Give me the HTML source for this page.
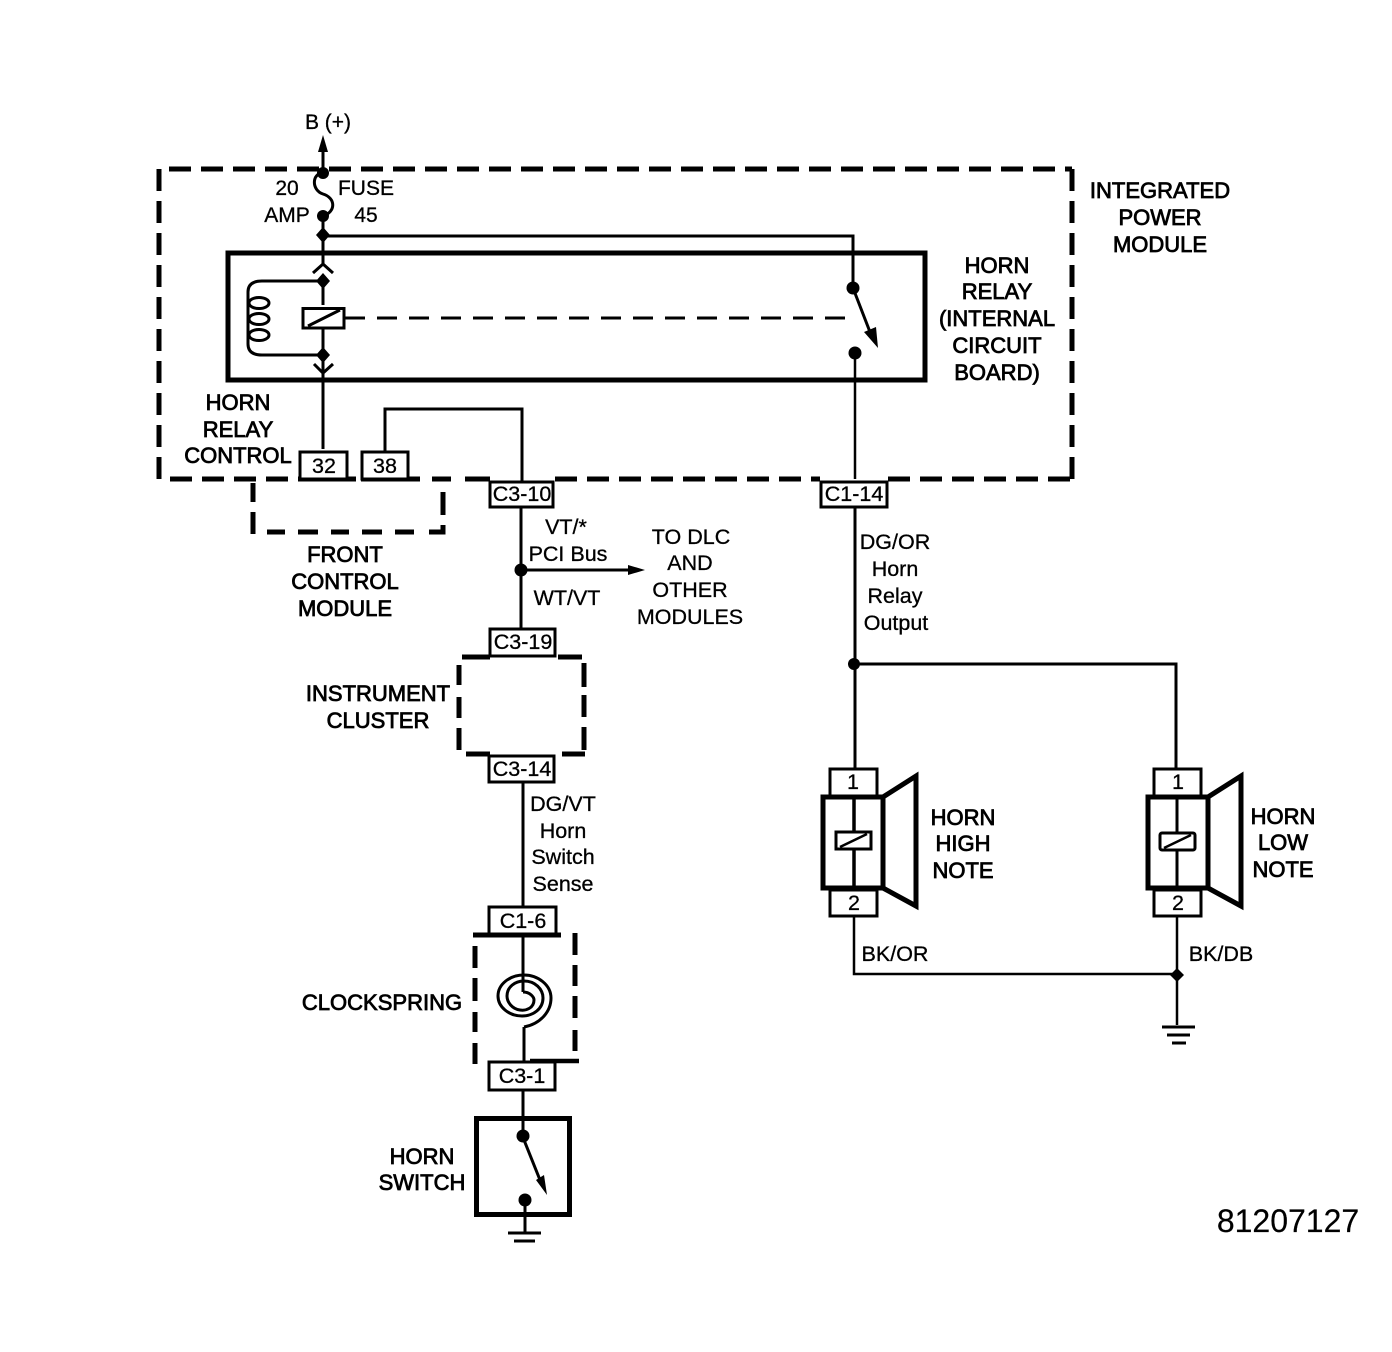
<!DOCTYPE html>
<html><head><meta charset="utf-8"><style>
html,body{margin:0;padding:0;background:#fff}
svg{display:block}
text{font-family:"Liberation Sans",sans-serif;font-size:21.5px;fill:#000;text-anchor:middle;stroke:#000;stroke-width:.3px}
.b text{font-size:22px;stroke-width:.8px}
.small text{font-size:21px}
</style></head><body>
<svg width="1392" height="1352" viewBox="0 0 1392 1352" xmlns="http://www.w3.org/2000/svg">
<g fill="none" stroke="#000" stroke-linecap="butt">
<!-- outer IPM -->
<path d="M169 169H1072" stroke-width="5" stroke-dasharray="22 10"/>
<path d="M1072 169V479" stroke-width="5" stroke-dasharray="22 10"/>
<path d="M159 169V479" stroke-width="5" stroke-dasharray="22 10"/>
<path d="M170 479H290" stroke-width="5" stroke-dasharray="22 10"/>
<path d="M298 479H356M361 479H420M432 479H451M465 479H490" stroke-width="5"/>
<path d="M555 479H820M888 479H1072" stroke-width="5" stroke-dasharray="22 10"/>
<!-- FCM -->
<path d="M253 483V502M253 512V534M267 532H285M298 532H318M331 532H349M362 532H382M395 532H414M443 492V515M443 525V532H429" stroke-width="5"/>
<!-- relay box -->
<rect x="228" y="253" width="697" height="127" stroke-width="5"/>
<!-- B+ feed -->
<path d="M323 150V172" stroke-width="3"/>
<path d="M323 173C312 173 311 190 323 194C336 198 336 212 323 216" stroke-width="3"/>
<path d="M323 216V266M323 281V305M323 328V372M323 372V449" stroke-width="3"/>
<path d="M323 236H853V287" stroke-width="3"/>
<path d="M853 288L870 332" stroke-width="3"/>
<path d="M855 353V479" stroke-width="2.500"/>
<path d="M313 273L323 264L333 273M314 364L323 373L333 364" stroke-width="3"/>
<!-- coil -->
<path d="M323 281H262Q248 281 248 292V344Q248 355 262 355H323" stroke-width="3"/>
<ellipse cx="259" cy="303" rx="10" ry="5.500" stroke-width="3"/>
<ellipse cx="259" cy="319" rx="10" ry="5.500" stroke-width="3"/>
<ellipse cx="259" cy="335" rx="10" ry="5.500" stroke-width="3"/>
<rect x="303" y="308.500" width="41" height="19.500" stroke-width="3"/>
<path d="M308 326L340 310" stroke-width="3"/>
<path d="M345 318H855" stroke-width="3" stroke-dasharray="20 12"/>
<!-- 38 loop -->
<path d="M385 452V409H522V482" stroke-width="3"/>
<!-- C3-10 down -->
<path d="M521 506V628" stroke-width="3"/>
<path d="M521 570H635" stroke-width="3"/>
<!-- instrument cluster -->
<path d="M462 657H490M558 657H582" stroke-width="5"/>
<path d="M459 665V685M459 697V718M459 728V750" stroke-width="5"/>
<path d="M584 663V687M584 695V717M584 727V750" stroke-width="5"/>
<path d="M466 754H490M562 754H585" stroke-width="5"/>
<!-- sense wire -->
<path d="M523 783V908M523 934V992M524 1027V1062M523 1090V1137" stroke-width="3"/>
<!-- clockspring -->
<path d="M523 992C530 992 534 997 534 1000C534 1008 526 1011 520 1010C512 1009 507 1002 507 996C507 987 515 981 524 981C535 981 543 989 543 998C543 1009 533 1016 522 1016C509 1016 498 1007 498 996C498 984 510 975 524 975C538 975 551 985 551 998C551 1012 540 1024 524 1027" stroke-width="3"/>
<!-- clockspring dashed -->
<path d="M475 946V968M475 978V1001M475 1012V1032M475 1043V1064" stroke-width="5"/>
<path d="M575 933V955M575 965V986M575 996V1018M575 1030V1051" stroke-width="5"/>
<path d="M530 1061H579" stroke-width="4.500"/>
<!-- horn switch -->
<rect x="476.500" y="1118.500" width="93" height="96" stroke-width="5"/>
<path d="M524 1140L540 1180" stroke-width="3"/>
<path d="M525 1200V1232" stroke-width="3"/>
<path d="M508 1233H541M514 1241H535" stroke-width="3"/>
<!-- horn wires -->
<path d="M855 507V770" stroke-width="3"/>
<path d="M854 664H1176V770" stroke-width="3"/>
<path d="M854 917V974H1177M1177 917V1025" stroke-width="2.500"/>
<path d="M1162 1027H1195M1167 1035H1190M1172 1043H1186" stroke-width="3"/>
<!-- horns -->
<rect x="823" y="797" width="60" height="91" stroke-width="5"/>
<path d="M883 797L916 776V906L883 888" stroke-width="5" stroke-linejoin="miter"/>
<rect x="1148" y="797" width="60" height="91" stroke-width="5"/>
<path d="M1208 797L1241 776V906L1208 888" stroke-width="5"/>
</g>
<g fill="#fff" stroke="#000" stroke-width="3">
<rect x="836" y="832" width="35" height="17"/>
<rect x="1160" y="833" width="35" height="17" rx="2"/>
<rect x="830" y="769" width="47" height="27"/>
<rect x="830" y="890" width="47" height="26"/>
<rect x="1154" y="769" width="47" height="27"/>
<rect x="1154" y="890" width="47" height="26"/>
<rect x="300" y="452" width="47" height="27"/>
<rect x="362" y="452" width="46" height="27"/>
<rect x="490" y="482" width="63" height="25"/>
<rect x="821" y="482" width="66" height="25"/>
<rect x="490" y="629" width="65" height="27"/>
<rect x="489" y="756" width="65" height="26"/>
<rect x="489" y="907" width="67" height="27"/>
<rect x="489" y="1062" width="66" height="28"/>
</g>
<g fill="none" stroke="#000" stroke-width="2.500">
<path d="M840 847L867 834M1164 848L1191 835"/>
</g>
<path d="M854 799V832M854 849V886" stroke="#000" stroke-width="3.500"/>
<path d="M1177 799V833M1177 850V886" stroke="#000" stroke-width="3"/>
<path d="M473 935H561" stroke="#000" stroke-width="5"/>
<!-- dots -->
<g fill="#000" stroke="none">
<path d="M323 135L328 152H318Z"/>
<circle cx="323" cy="173" r="6"/><circle cx="323" cy="216" r="6"/>
<path d="M323 227L330 235L323 243L316 235Z"/>
<path d="M323 273L330 281L323 289L316 281Z"/>
<path d="M323 347L330 355L323 363L316 355Z"/>
<circle cx="853" cy="288" r="6.500"/><circle cx="855" cy="353" r="6.500"/>
<path d="M878 348L864 332L876 327Z"/>
<circle cx="521" cy="570" r="6.500"/>
<path d="M645 570L628 565V575Z"/>
<circle cx="523" cy="1136" r="6.500"/><circle cx="525" cy="1200" r="6.500"/>
<path d="M547 1195L536 1180L544 1175Z"/>
<circle cx="854" cy="664" r="6"/>
<path d="M1177 968L1184 975L1177 982L1170 975Z"/>
</g>
<!-- text -->
<g>
<g class="small"><text x="328" y="129">B (+)</text>
<text x="287" y="195">20</text><text x="287" y="222">AMP</text>
<text x="366" y="195">FUSE</text><text x="366" y="222">45</text></g>
<g class="b">
<text x="1160" y="198">INTEGRATED</text><text x="1160" y="225">POWER</text><text x="1160" y="252">MODULE</text>
<text x="997" y="273">HORN</text><text x="997" y="299">RELAY</text><text x="997" y="326">(INTERNAL</text><text x="997" y="353">CIRCUIT</text><text x="997" y="380">BOARD)</text>
<text x="238" y="410">HORN</text><text x="238" y="437">RELAY</text><text x="238" y="463">CONTROL</text>
<text x="345" y="562">FRONT</text><text x="345" y="589">CONTROL</text><text x="345" y="616">MODULE</text>
<text x="378" y="701">INSTRUMENT</text><text x="378" y="728">CLUSTER</text>
<text x="382" y="1010">CLOCKSPRING</text>
<text x="422" y="1164">HORN</text><text x="422" y="1190">SWITCH</text>
<text x="963" y="825">HORN</text><text x="963" y="851">HIGH</text><text x="963" y="878">NOTE</text>
<text x="1283" y="824">HORN</text><text x="1283" y="850">LOW</text><text x="1283" y="877">NOTE</text>
</g>
<text x="324" y="473">32</text><text x="385" y="473">38</text>
<text x="522" y="501">C3-10</text><text x="854" y="501">C1-14</text>
<text x="523" y="649">C3-19</text><text x="522" y="776">C3-14</text>
<text x="523" y="928">C1-6</text><text x="522" y="1083">C3-1</text>
<text x="566" y="534">VT/*</text><text x="568" y="561">PCI Bus</text><text x="567" y="605">WT/VT</text>
<text x="691" y="544">TO DLC</text><text x="690" y="570">AND</text><text x="690" y="597">OTHER</text><text x="690" y="624">MODULES</text>
<text x="895" y="549">DG/OR</text><text x="895" y="576">Horn</text><text x="895" y="603">Relay</text><text x="896" y="630">Output</text>
<text x="563" y="811">DG/VT</text><text x="563" y="838">Horn</text><text x="563" y="864">Switch</text><text x="563" y="891">Sense</text>
<text x="853" y="789">1</text><text x="854" y="910">2</text><text x="1178" y="789">1</text><text x="1178" y="910">2</text>
<text x="895" y="961">BK/OR</text><text x="1221" y="961">BK/DB</text>
<text x="1288" y="1232" style="font-size:32px;stroke-width:.2px">81207127</text>
</g>
</svg>
</body></html>
